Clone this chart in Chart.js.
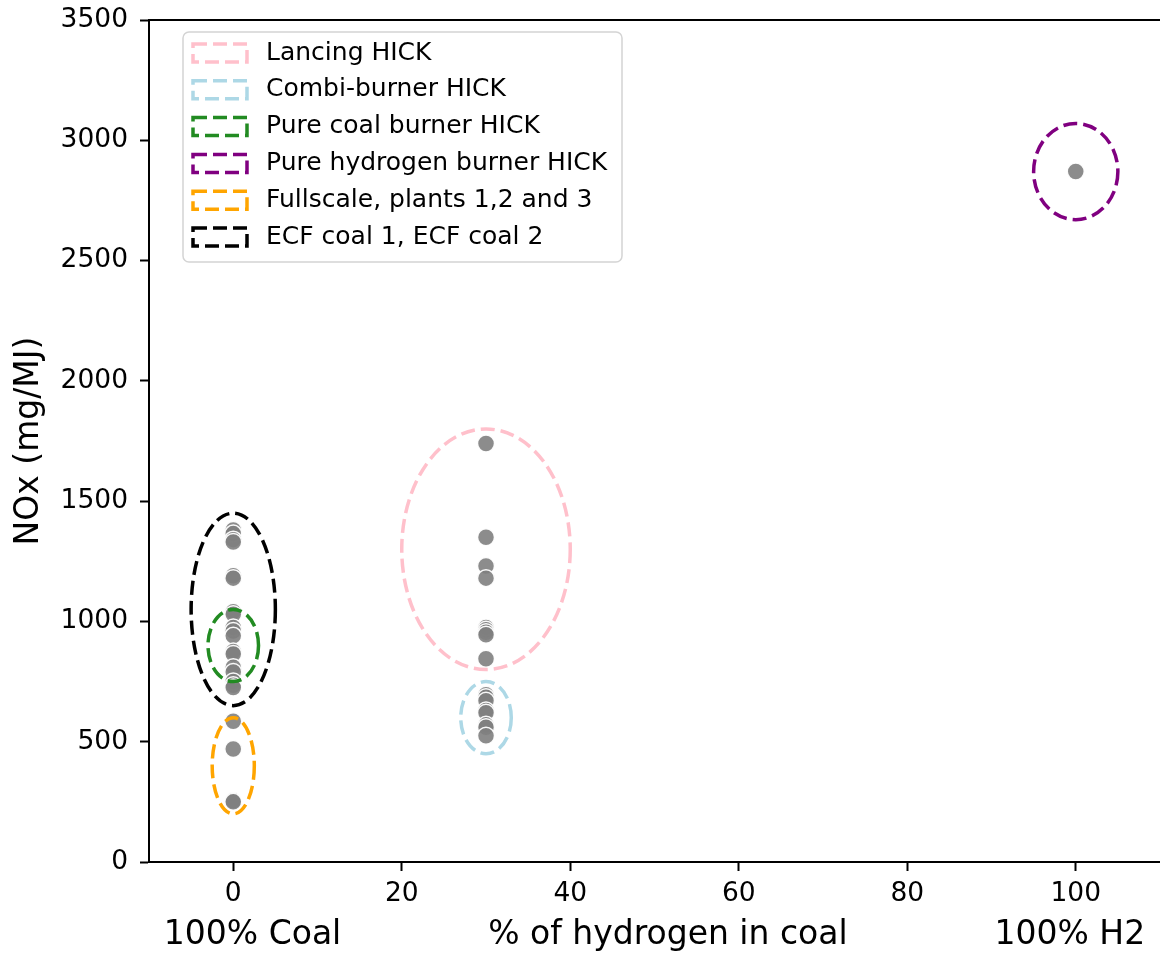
<!DOCTYPE html>
<html lang="en">
  <head>
    <meta charset="utf-8" />
    <title>NOx vs hydrogen share</title>
    <script src="https://cdn.jsdelivr.net/npm/chart.js"></script>
    <style>
      html,
      body {
        margin: 0;
        padding: 0;
        background: #fff;
      }
      .chart-box {
        width: 1160px;
        height: 959px;
      }
    </style>
  </head>
  <body>
    <div class="chart-box"><canvas id="noxChart"></canvas></div>
    <script>
      // measured NOx (mg/MJ) per hydrogen share
      const coalNox = [
        1380, 1365, 1340, 1330, 1190, 1180, 1040, 1030, 975, 960, 940, 875,
        865, 810, 790, 750, 735, 725, 585, 470, 255, 250,
      ];
      const mixNox = [
        1740, 1350, 1230, 1180, 975, 965, 955, 945, 845, 695, 685, 670, 630,
        620, 570, 560, 525,
      ];
      const h2Nox = [2870];
      const coalShare = 0;
      const mixShare = 30;
      const h2Share = 100;

      const xTicks = [0, 20, 40, 60, 80, 100];
      const yTicks = [0, 500, 1000, 1500, 2000, 2500, 3000, 3500];

      // dashed ellipses grouping the test series (centre, width, height in data units)
      const groupLabels = [
        "Lancing HICK",
        "Combi-burner HICK",
        "Pure coal burner HICK",
        "Pure hydrogen burner HICK",
        "Fullscale, plants 1,2 and 3",
        "ECF coal 1, ECF coal 2",
      ];
      const groupColors = ["#ffc0cb", "#add8e6", "#228b22", "#800080", "#ffa500", "#000000"];
      const groupX = [30, 30, 0, 100, 0, 0];
      const groupY = [1300, 600, 900, 2870, 400, 1050];
      const groupW = [20, 6, 6, 10, 5, 10];
      const groupH = [1000, 300, 300, 400, 400, 800];

      const FONT = "DejaVu Sans";
      const DASH = [14, 6];

      const points = [
        ...coalNox.map((v) => ({ x: coalShare, y: v })),
        ...mixNox.map((v) => ({ x: mixShare, y: v })),
        ...h2Nox.map((v) => ({ x: h2Share, y: v })),
      ];

      const ellipsePlugin = {
        id: "groupEllipses",
        afterDatasetsDraw(chart) {
          const { ctx, scales } = chart;
          const xs = scales.x;
          const ys = scales.y;
          ctx.save();
          ctx.lineWidth = 3.5;
          ctx.setLineDash(DASH);
          groupLabels.forEach((_, i) => {
            const cx = xs.getPixelForValue(groupX[i]);
            const cy = ys.getPixelForValue(groupY[i]);
            const rx = Math.abs(xs.getPixelForValue(groupX[i] + groupW[i] / 2) - cx);
            const ry = Math.abs(ys.getPixelForValue(groupY[i] + groupH[i] / 2) - cy);
            ctx.strokeStyle = groupColors[i];
            ctx.beginPath();
            ctx.ellipse(cx, cy, rx, ry, 0, 0, Math.PI * 2);
            ctx.stroke();
          });
          ctx.restore();
        },
        afterDraw(chart) {
          const { ctx, chartArea } = chart;
          ctx.save();
          // top spine (right one falls off the canvas edge)
          ctx.strokeStyle = "#000";
          ctx.lineWidth = 2;
          ctx.beginPath();
          ctx.moveTo(chartArea.left, chartArea.top);
          ctx.lineTo(chart.width, chartArea.top);
          ctx.stroke();

          // legend box
          const bx = chartArea.left + 34;
          const by = chartArea.top + 12;
          const bw = 439;
          const bh = 230;
          ctx.fillStyle = "rgba(255,255,255,0.8)";
          ctx.strokeStyle = "#d4d4d4";
          ctx.lineWidth = 1.5;
          ctx.beginPath();
          ctx.roundRect(bx, by, bw, bh, 6);
          ctx.fill();
          ctx.stroke();

          ctx.font = "25px '" + FONT + "'";
          ctx.textBaseline = "middle";
          ctx.textAlign = "left";
          groupLabels.forEach((label, i) => {
            const rowY = by + 21 + i * 36.8;
            ctx.setLineDash(DASH);
            ctx.lineWidth = 3.5;
            ctx.strokeStyle = groupColors[i];
            ctx.strokeRect(bx + 10, rowY - 9, 54, 18);
            ctx.setLineDash([]);
            ctx.fillStyle = "#000";
            ctx.fillText(label, bx + 83, rowY);
          });
          ctx.restore();
        },
      };

      new Chart(document.getElementById("noxChart"), {
        type: "scatter",
        data: {
          datasets: [
            {
              label: "NOx",
              data: points,
              backgroundColor: "rgba(128,128,128,0.9)",
              borderColor: "rgba(255,255,255,0.95)",
              borderWidth: 1.5,
              pointRadius: 8.5,
              pointHoverRadius: 8.5,
            },
          ],
        },
        options: {
          responsive: true,
          maintainAspectRatio: false,
          animation: false,
          layout: {
            autoPadding: false,
            padding: { top: 20, right: -2, left: 0, bottom: 0 },
          },
          plugins: {
            legend: { display: false },
            tooltip: { enabled: false },
          },
          scales: {
            x: {
              type: "linear",
              min: -10,
              max: 110,
              afterBuildTicks: (scale) => {
                scale.ticks = xTicks.map((v) => ({ value: v }));
              },
              afterFit: (scale) => {
                scale.height = 97;
                scale.paddingLeft = 0;
                scale.paddingRight = 0;
              },
              grid: {
                drawOnChartArea: false,
                drawTicks: true,
                tickLength: 9,
                tickWidth: 2,
                tickColor: "#000",
              },
              border: { display: true, color: "#000", width: 2 },
              ticks: {
                color: "#000",
                padding: 7,
                maxRotation: 0,
                font: { family: FONT, size: 26.5 },
              },
              title: {
                display: true,
                text:
                  "100% Coal" +
                  " ".repeat(14) +
                  "% of hydrogen in coal" +
                  " ".repeat(14) +
                  "100% H2",
                color: "#000",
                font: { family: FONT, size: 33 },
                padding: { top: 0, bottom: 4 },
              },
            },
            y: {
              type: "linear",
              min: 0,
              max: 3500,
              afterBuildTicks: (scale) => {
                scale.ticks = yTicks.map((v) => ({ value: v }));
              },
              afterFit: (scale) => {
                scale.width = 149;
                scale.paddingTop = 0;
                scale.paddingBottom = 0;
              },
              grid: {
                drawOnChartArea: false,
                drawTicks: true,
                tickLength: 9,
                tickWidth: 2,
                tickColor: "#000",
              },
              border: { display: true, color: "#000", width: 2 },
              ticks: {
                color: "#000",
                padding: 12,
                font: { family: FONT, size: 26.5 },
                callback: (value) => String(value),
              },
              title: {
                display: true,
                text: "NOx (mg/MJ)",
                color: "#000",
                font: { family: FONT, size: 33 },
                padding: { top: 10, bottom: 0 },
              },
            },
          },
        },
        plugins: [ellipsePlugin],
      });
    </script>
  </body>
</html>
